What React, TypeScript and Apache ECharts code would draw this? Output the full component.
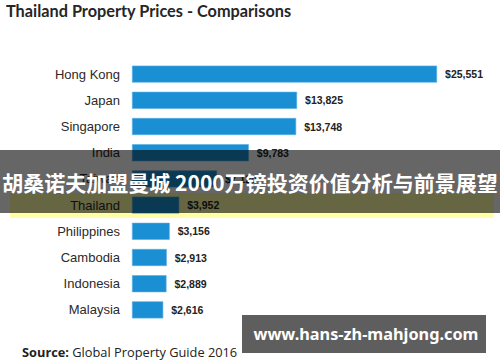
import React, { useEffect, useRef } from "react";
import * as echarts from "echarts";

const countries = [
  "Hong Kong",
  "Japan",
  "Singapore",
  "India",
  "Taiwan",
  "Thailand",
  "Philippines",
  "Cambodia",
  "Indonesia",
  "Malaysia",
];
const prices = [25551, 13825, 13748, 9783, 7120, 3952, 3156, 2913, 2889, 2616];

const titleText = "Thailand Property Prices - Comparisons";
const overlayText = "胡桑诺夫加盟曼城 2000万镑投资价值分析与前景展望";
const watermarkText = "www.hans-zh-mahjong.com";

const fmt = (v: number) => "$" + v.toLocaleString("en-US");

export default function App() {
  const ref = useRef<HTMLDivElement>(null);
  useEffect(() => {
    if (!ref.current) return;
    const chart = echarts.init(ref.current, null, { renderer: "svg" });
    chart.setOption({
      animation: false,
      backgroundColor: "#ffffff",
      grid: { left: 132, top: 61, height: 262, width: 310.4 },
      xAxis: {
        type: "value",
        min: 0,
        max: 26000,
        show: false,
        splitLine: { show: false },
      },
      yAxis: {
        type: "category",
        inverse: true,
        data: countries,
        axisLine: { show: false },
        axisTick: { show: false },
        axisLabel: {
          margin: 12,
          fontFamily: "Liberation Sans",
          fontSize: 13,
          color: "#2a2a2a",
        },
      },
      series: [
        {
          type: "bar",
          data: prices,
          barWidth: 17,
          itemStyle: { color: "#1b8fd3", borderColor: "#5aaee0", borderWidth: 0.6 },
          label: {
            show: true,
            position: "right",
            distance: 8,
            formatter: (p: any) => fmt(p.value),
            fontFamily: "Liberation Sans",
            fontWeight: "bold",
            fontSize: 10.5,
            color: "#222",
          },
          z: 2,
        },
      ],
      graphic: [
        {
          type: "rect",
          z: 0,
          silent: true,
          shape: { x: 10, y: 193, width: 484, height: 25 },
          style: { fill: "#ffffa6" },
        },
        {
          type: "text",
          z: 50,
          left: 6,
          top: 2,
          style: {
            text: titleText,
            font: "bold 16.3px Lato",
            fill: "#262626",
          },
        },
        {
          type: "rect",
          z: 100,
          silent: true,
          shape: { x: 0, y: 150, width: 500, height: 63 },
          style: { fill: "rgba(0,0,0,0.6)" },
        },
        {
          type: "text",
          z: 101,
          x: 250,
          y: 182,
          style: {
            text: overlayText,
            font: "bold 21px 'Noto Sans CJK SC'",
            fill: "#ffffff",
            align: "center",
            verticalAlign: "middle",
          },
        },
        {
          type: "text",
          z: 50,
          x: 22,
          y: 352,
          style: {
            text: "{b|Source:} Global Property Guide 2016",
            font: "12.8px 'Open Sans'",
            fill: "#222",
            verticalAlign: "middle",
            rich: {
              b: { fontWeight: "bold", fontSize: 12.8, fontFamily: "Open Sans", fill: "#222" },
            },
          },
        },
        {
          type: "rect",
          z: 100,
          silent: true,
          shape: { x: 242, y: 315, width: 244, height: 38 },
          style: { fill: "#5e5e5e" },
        },
        {
          type: "text",
          z: 101,
          x: 366,
          y: 334,
          style: {
            text: watermarkText,
            font: "bold 16.3px 'Noto Sans'",
            fill: "#ffffff",
            align: "center",
            verticalAlign: "middle",
          },
        },
      ],
    });
    return () => chart.dispose();
  }, []);
  return (
    <div
      ref={ref}
      style={{ position: "fixed", left: 0, top: 0, width: 500, height: 362, background: "#fff" }}
    />
  );
}
